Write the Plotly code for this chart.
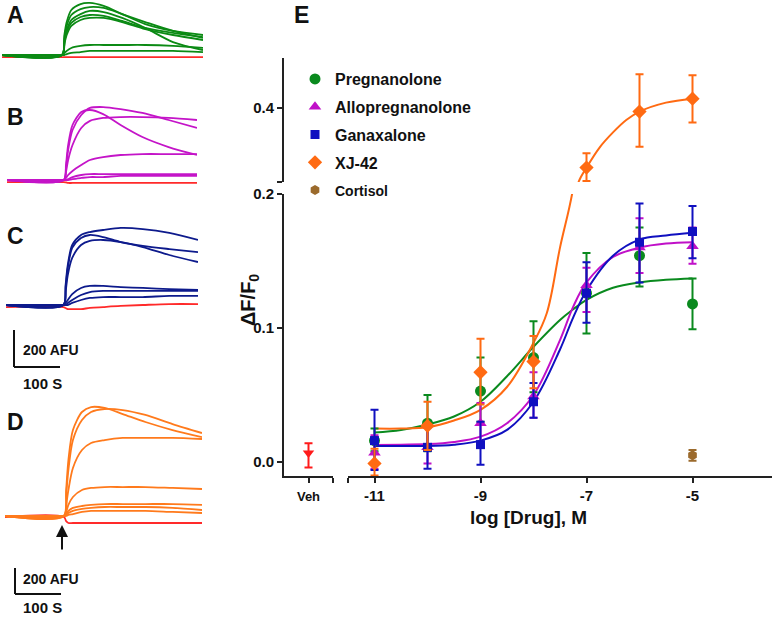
import plotly.graph_objects as go

W, H = 774, 617
FONT = "Liberation Sans, Arial, sans-serif"

# ---------------- panels A-D : fluorescence traces (AFU above baseline) ----------------
t_s = [-130, 0, 5, 10, 20, 40, 60, 90, 130, 180, 240, 305]

A_drug = [
    [0, 0, 108, 178, 243, 275, 281, 265, 221, 167, 130, 108],
    [0, 0, 92, 157, 216, 248, 259, 254, 221, 178, 130, 92],
    [0, 0, 81, 135, 189, 221, 238, 232, 200, 146, 70, 27],
    [0, 0, 70, 124, 173, 205, 216, 211, 184, 146, 119, 97],
    [0, 0, 59, 108, 157, 189, 200, 200, 178, 140, 108, 81],
    [0, 0, 11, 22, 38, 49, 54, 54, 54, 54, 49, 38],
    [0, 0, 0, 5, 11, 16, 22, 22, 22, 22, 22, 16],
]
A_veh = [-12, -12, -12, -12, -12, -12, -12, -12, -12, -12, -12, -12]

B_drug = [
    [0, 0, 81, 189, 297, 367, 378, 356, 297, 232, 178, 135],
    [0, 0, 65, 162, 270, 351, 389, 394, 383, 362, 324, 281],
    [0, 0, 43, 108, 189, 281, 319, 335, 340, 340, 335, 324],
    [0, 0, 11, 27, 49, 81, 108, 124, 135, 140, 140, 140],
    [0, 0, 0, 5, 16, 27, 32, 32, 32, 32, 32, 32],
    [0, 0, 0, 0, 5, 11, 16, 16, 22, 22, 22, 22],
]
B_veh = [-11, -11, -13, -16, -16, -16, -16, -16, -16, -16, -16, -16]

C_drug = [
    [0, 0, 108, 216, 324, 378, 394, 405, 416, 410, 389, 351],
    [0, 0, 92, 200, 308, 362, 378, 367, 340, 319, 302, 286],
    [0, 0, 70, 162, 254, 324, 346, 351, 340, 313, 270, 232],
    [0, 0, 11, 27, 59, 92, 103, 103, 97, 92, 86, 81],
    [0, 0, 0, 11, 27, 54, 70, 76, 76, 76, 76, 76],
    [0, 0, 0, 0, 11, 27, 38, 43, 43, 43, 49, 49],
]
C_veh = [-11, -11, -16, -22, -22, -22, -16, -11, -5, 0, 5, 5]

D_drug = [
    [0, 0, 200, 431, 662, 801, 839, 832, 785, 724, 662, 608],
    [0, 0, 162, 354, 585, 739, 801, 824, 816, 778, 708, 639],
    [0, 0, 85, 200, 370, 508, 562, 585, 601, 601, 601, 593],
    [0, 0, 31, 85, 146, 200, 216, 223, 223, 223, 216, 208],
    [0, 0, 15, 39, 62, 77, 85, 92, 92, 92, 92, 85],
    [0, 0, 8, 23, 39, 54, 62, 69, 69, 69, 62, 46],
    [0, 0, 0, 8, 15, 31, 39, 39, 39, 39, 31, 23],
]
D_veh = [-8, -8, -40, -54, -54, -54, -54, -54, -54, -54, -54, -54]

# ---------------- panel E : concentration-response ----------------
log_dose = [-11, -10, -9, -8, -7, -6, -5]

preg = [0.016, 0.029, 0.053, 0.078, 0.126, 0.154, 0.118]
preg_hi = [0.025, 0.050, 0.078, 0.105, 0.156, 0.175, 0.137]
preg_lo = [0.008, 0.008, 0.030, 0.052, 0.096, 0.131, 0.099]

allo = [0.007, 0.011, 0.029, 0.049, 0.132, 0.160, 0.161]
allo_hi = [0.020, 0.026, 0.044, 0.067, 0.145, 0.182, 0.175]
allo_lo = [-0.005, -0.001, 0.013, 0.033, 0.112, 0.141, 0.148]

gana = [0.016, 0.011, 0.013, 0.045, 0.126, 0.164, 0.172]
gana_hi = [0.039, 0.026, 0.030, 0.059, 0.149, 0.193, 0.191]
gana_lo = [-0.006, -0.005, -0.002, 0.033, 0.104, 0.134, 0.152]

xj42 = [-0.001, 0.027, 0.067, 0.075, 0.279, 0.392, 0.418]
xj42_hi = [0.010, 0.045, 0.092, 0.094, 0.308, 0.467, 0.465]
xj42_lo = [-0.010, 0.009, 0.043, 0.055, 0.252, 0.321, 0.370]

cort_dose = [-5]
cort = [0.005]
cort_hi = [0.009]
cort_lo = [0.001]

veh = [0.0067]
veh_hi = [0.014]
veh_lo = [-0.004]

fit_x = [-11, -10.5, -10, -9.5, -9, -8.5, -8, -7.5, -7.25, -7, -6.5, -6, -5.5, -5]
preg_fit = [0.022, 0.024, 0.028, 0.034, 0.045, 0.064, 0.086, 0.106, 0.114, 0.121, 0.130, 0.134, 0.136, 0.137]
allo_fit = [0.0127, 0.013, 0.0134, 0.015, 0.019, 0.029, 0.050, 0.091, 0.116, 0.134, 0.153, 0.160, 0.163, 0.164]
gana_fit = [0.012, 0.012, 0.012, 0.013, 0.016, 0.024, 0.045, 0.084, 0.108, 0.128, 0.154, 0.166, 0.169, 0.171]
xj42_fit_x = [-11, -10.5, -10, -9.5, -9, -8.5, -8, -7.75, -7.5, -7.25, -7.15, -7, -6.75, -6.5, -6.25, -6, -5.5, -5]
xj42_fit = [0.025, 0.025, 0.026, 0.031, 0.039, 0.056, 0.089, 0.111, 0.160, 0.205, 0.25, 0.279, 0.32, 0.35, 0.375, 0.392, 0.41, 0.418]


def px(x):
    return x / W


def py(y):
    return 1 - y / H


fig = go.Figure()

# left traces, one hidden axis pair per panel
panels = [
    ("3", A_drug, A_veh, "#0b8a14", (2, 203), (0, 70), [-81, 297]),
    ("4", B_drug, B_veh, "#c414c8", (7, 197), (95, 190), [-54, 459]),
    ("5", C_drug, C_veh, "#0d1a8c", (6, 198), (215, 320), [-81, 486]),
    ("6", D_drug, D_veh, "#ff7a1c", (5, 202), (395, 530), [-108, 932]),
]
layout_axes = {}
for n, drug, vehtr, col, xd, yd, yr in panels:
    fig.add_trace(go.Scatter(x=t_s, y=vehtr, mode="lines", xaxis="x" + n, yaxis="y" + n,
                             line=dict(color="#ff2a2a", width=1.8, shape="spline"), showlegend=False))
    for tr in drug:
        fig.add_trace(go.Scatter(x=t_s, y=tr, mode="lines", xaxis="x" + n, yaxis="y" + n,
                                 line=dict(color=col, width=1.8, shape="spline", smoothing=0.8),
                                 showlegend=False))
    layout_axes["xaxis" + n] = dict(domain=[px(xd[0]), px(xd[1])], range=[-130, 305], visible=False,
                                    anchor="y" + n)
    layout_axes["yaxis" + n] = dict(domain=[py(yd[1]), py(yd[0])], range=yr, visible=False,
                                    anchor="x" + n)


def err(v, hi, lo):
    return dict(type="data", symmetric=False,
                array=[h - a for h, a in zip(hi, v)],
                arrayminus=[a - l for l, a in zip(lo, v)],
                thickness=2, width=4)


GREEN, MAG, BLUE, ORANGE, BROWN, RED = "#0a8a1e", "#c010c8", "#1010c0", "#ff6a12", "#9b6a2c", "#ff1a1a"

# fitted curves
fig.add_trace(go.Scatter(x=fit_x, y=preg_fit, mode="lines", line=dict(color=GREEN, width=2, shape="spline"),
                         showlegend=False))
fig.add_trace(go.Scatter(x=xj42_fit_x, y=xj42_fit, mode="lines", line=dict(color=ORANGE, width=2, shape="spline"),
                         showlegend=False))
fig.add_trace(go.Scatter(x=xj42_fit_x, y=xj42_fit, mode="lines", yaxis="y2",
                         line=dict(color=ORANGE, width=2, shape="spline"), showlegend=False))
fig.add_trace(go.Scatter(x=fit_x, y=allo_fit, mode="lines", line=dict(color=MAG, width=2, shape="spline"),
                         showlegend=False))
fig.add_trace(go.Scatter(x=fit_x, y=gana_fit, mode="lines", line=dict(color=BLUE, width=2, shape="spline"),
                         showlegend=False))

series = [
    ("Pregnanolone", log_dose, preg, preg_hi, preg_lo, GREEN, "circle", 11),
    ("Allopregnanolone", log_dose, allo, allo_hi, allo_lo, MAG, "triangle-up", 11),
    ("Ganaxalone", log_dose, gana, gana_hi, gana_lo, BLUE, "square", 9),
    ("XJ-42", log_dose, xj42, xj42_hi, xj42_lo, ORANGE, "diamond", 11),
    ("Cortisol", cort_dose, cort, cort_hi, cort_lo, BROWN, "hexagon", 10),
]
for name, xs, v, hi, lo, col, sym, sz in series:
    label = "<b>%s</b>" % name
    if name == "Cortisol":
        label = "<span style='font-size:14px'><b>Cortisol</b></span>"
    fig.add_trace(go.Scatter(x=xs, y=v, mode="markers", name=label, legendgroup=name,
                             marker=dict(color=col, symbol=sym, size=sz, line=dict(width=0)),
                             error_y=dict(err(v, hi, lo), color=col)))
    if name == "XJ-42":
        fig.add_trace(go.Scatter(x=xs, y=v, mode="markers", yaxis="y2", showlegend=False,
                                 marker=dict(color=col, symbol=sym, size=sz, line=dict(width=0)),
                                 error_y=dict(err(v, hi, lo), color=col)))

fig.add_trace(go.Scatter(x=[1], y=veh, mode="markers", xaxis="x2", showlegend=False,
                         marker=dict(color=RED, symbol="triangle-down", size=10),
                         error_y=dict(err(veh, veh_hi, veh_lo), color=RED)))

ax_common = dict(showline=True, linewidth=2, linecolor="#222", ticks="outside", ticklen=5, tickwidth=2,
                 tickcolor="#222", showgrid=False, zeroline=False, automargin=False,
                 tickfont=dict(family=FONT, size=15, color="#111", weight="bold"))

fig.update_layout(
    width=W, height=H, margin=dict(l=0, r=0, t=0, b=0),
    paper_bgcolor="white", plot_bgcolor="white",
    font=dict(family=FONT, color="#111"),
    xaxis=dict(ax_common, domain=[px(348), px(772)], range=[-11.5, -3.5], anchor="y",
               tickvals=[-11.5, -11, -9, -7, -5], ticktext=["", "-11", "-9", "-7", "-5"]),
    xaxis2=dict(ax_common, domain=[px(284), px(333)], range=[0, 2], anchor="y",
                tickvals=[1, 2], ticktext=["<span style='font-size:13px'>Veh</span>", ""]),
    yaxis=dict(ax_common, domain=[py(476), py(194)], range=[-0.0104, 0.2], anchor="x2",
               tickvals=[0, 0.1, 0.2], ticktext=["0.0", "0.1", "0.2"]),
    yaxis2=dict(ax_common, domain=[py(182), py(58)], range=[0.25, 0.5], anchor="x2",
                tickvals=[0.25, 0.4], ticktext=["", "0.4"]),
    legend=dict(x=px(295), y=py(62), xanchor="left", yanchor="top", bgcolor="rgba(0,0,0,0)",
                font=dict(family=FONT, size=16, color="#111"), tracegroupgap=4, itemclick=False),
    **layout_axes,
)

ann = [
    dict(text="A", x=px(15), y=py(15)), dict(text="B", x=px(15), y=py(117)),
    dict(text="C", x=px(15), y=py(236)), dict(text="D", x=px(15), y=py(422)),
    dict(text="E", x=px(301), y=py(15)),
]
for a in ann:
    fig.add_annotation(xref="paper", yref="paper", showarrow=False, xanchor="center", yanchor="middle",
                       font=dict(family=FONT, size=23, color="#111"), text="<b>%s</b>" % a["text"],
                       x=a["x"], y=a["y"])

# axis titles
fig.add_annotation(xref="paper", yref="paper", x=px(528), y=py(517), showarrow=False,
                   xanchor="center", yanchor="middle",
                   text="<b>log [Drug], M</b>", font=dict(family=FONT, size=19, color="#111"))
fig.add_annotation(xref="paper", yref="paper", x=px(249), y=py(300), showarrow=False, textangle=-90,
                   xanchor="center", yanchor="middle",
                   text="<b>ΔF/F<sub>0</sub></b>", font=dict(family=FONT, size=20, color="#111"))

# scale bars
for (x0, ytop, ybot, xr, t1y, t2y) in [(14, 330, 367, 60, 350, 383), (15, 568, 594, 61, 579, 607)]:
    fig.add_shape(type="line", xref="paper", yref="paper", x0=px(x0), x1=px(x0), y0=py(ytop), y1=py(ybot),
                  line=dict(color="#111", width=2))
    fig.add_shape(type="line", xref="paper", yref="paper", x0=px(x0), x1=px(xr), y0=py(ybot), y1=py(ybot),
                  line=dict(color="#111", width=2))
    fig.add_annotation(xref="paper", yref="paper", x=px(21), y=py(t1y), xanchor="left", yanchor="middle",
                       showarrow=False, text="<b>200 AFU</b>", font=dict(family=FONT, size=14, color="#111"))
    fig.add_annotation(xref="paper", yref="paper", x=px(21), y=py(t2y), xanchor="left", yanchor="middle",
                       showarrow=False, text="<b>100 S</b>", font=dict(family=FONT, size=15, color="#111"))

# stimulus arrow in D
fig.add_annotation(xref="paper", yref="paper", x=px(62), y=py(525), ax=0, ay=26, showarrow=True,
                   arrowhead=2, arrowsize=1.2, arrowwidth=2, arrowcolor="#111", text="")

fig.write_html("out.html", config={"displayModeBar": False},
               post_script="document.body.style.margin='0px';")
